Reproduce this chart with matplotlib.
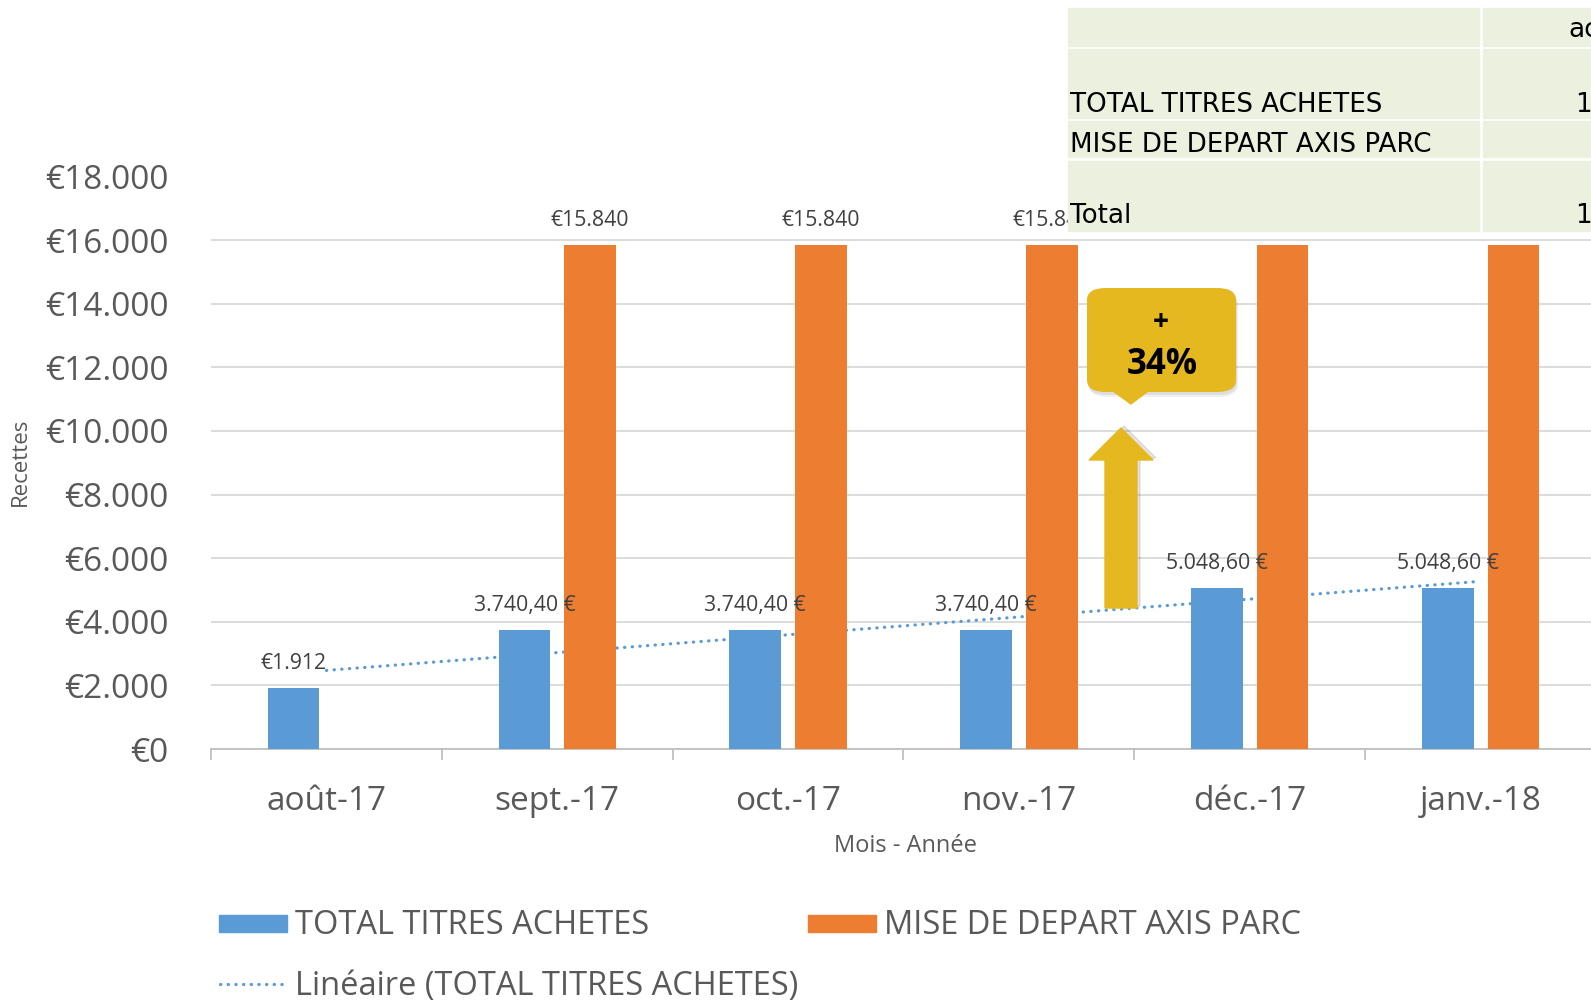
import numpy as np
import matplotlib.pyplot as plt
from matplotlib.patches import Rectangle, FancyBboxPatch, Polygon
from matplotlib.lines import Line2D

# donnees
mois = ["août-17", "sept.-17", "oct.-17", "nov.-17", "déc.-17", "janv.-18"]
titres = [1912, 3740.40, 3740.40, 3740.40, 5048.60, 5048.60]
mise = [0, 15840, 15840, 15840, 15840, 15840]
titres_labels = ["€1.912", "3.740,40 €", "3.740,40 €", "3.740,40 €", "5.048,60 €", "5.048,60 €"]
mise_labels = ["", "€15.840", "€15.840", "€15.840", "€15.840", "€15.840"]
yticks = [0, 2000, 4000, 6000, 8000, 10000, 12000, 14000, 16000, 18000]
ytick_labels = ["€0", "€2.000", "€4.000", "€6.000", "€8.000", "€10.000",
                "€12.000", "€14.000", "€16.000", "€18.000"]
table_rows = ["", "TOTAL TITRES ACHETES", "MISE DE DEPART AXIS PARC", "Total"]
table_col2 = ["ac", "1", "", "1"]

BLUE = "#5B9BD5"
ORANGE = "#ED7D31"
GOLD = "#E5B81F"
GREY = "#595959"
FONT = "Open Sans"

W, H = 1591, 1000


def fx(px):
    return px / W


def fy(py):
    return 1 - py / H


fig = plt.figure(figsize=(W / 100, H / 100), dpi=100)
fig.patch.set_facecolor("white")

ax = fig.add_axes([fx(211), fy(749), (1596 - 211) / W, (749 - 176.5) / H])
x = np.arange(len(mois))
off, bw = 0.142, 0.224

ax.bar(x - off, titres, bw, color=BLUE, zorder=3)
ax.bar(x[1:] + off, mise[1:], bw, color=ORANGE, zorder=3)

coef = np.polyfit(x, titres, 1)
ax.plot(x, np.polyval(coef, x), color=BLUE, lw=2.3, linestyle=(0, (0.1, 2.3)),
        dash_capstyle="round", zorder=2)

for xi, v, lbl in zip(x, titres, titres_labels):
    ax.annotate(lbl, (xi - off, v), xytext=(0, 18), textcoords="offset points",
                ha="center", va="center", fontsize=15.3, color="#404040", family=FONT)
for xi, v, lbl in zip(x, mise, mise_labels):
    if lbl:
        ax.annotate(lbl, (xi + off, v), xytext=(0, 18), textcoords="offset points",
                    ha="center", va="center", fontsize=15.3, color="#404040", family=FONT)

ax.set_xlim(-0.5, 5.5)
ax.set_ylim(0, 18000)
ax.set_yticks(yticks)
ax.set_yticklabels(ytick_labels, fontsize=24, color=GREY, family=FONT)
ax.set_xticks(x)
ax.set_xticklabels(mois, fontsize=24, color=GREY, family=FONT)
ax.set_xticks(np.arange(-0.5, 6, 1), minor=True)
ax.tick_params(axis="y", length=0, pad=30.5)
ax.tick_params(axis="x", which="major", length=0, pad=26)
ax.tick_params(axis="x", which="minor", length=8, color="#BFBFBF", width=1.3)
ax.yaxis.grid(True, color="#D9D9D9", lw=1.3, zorder=0)
ax.set_axisbelow(True)
for s in ["top", "right", "left"]:
    ax.spines[s].set_visible(False)
ax.spines["bottom"].set_color("#BFBFBF")
ax.spines["bottom"].set_linewidth(1.3)
ax.set_facecolor("none")

fig.text(fx(905), fy(846), "Mois - Année", ha="center", va="center",
         fontsize=17, color=GREY, family=FONT)
fig.text(fx(20), fy(462), "Recettes", ha="center", va="center", rotation=90,
         fontsize=16, color=GREY, family=FONT)

# legende
fig.patches.append(Rectangle((fx(219), fy(932)), (287 - 219) / W, 17 / H,
                             transform=fig.transFigure, color=BLUE))
fig.text(fx(295), fy(925), "TOTAL TITRES ACHETES", ha="left", va="center",
         fontsize=23.5, color=GREY, family=FONT)
fig.patches.append(Rectangle((fx(808), fy(932)), (876 - 808) / W, 17 / H,
                             transform=fig.transFigure, color=ORANGE))
fig.text(fx(884), fy(925), "MISE DE DEPART AXIS PARC", ha="left", va="center",
         fontsize=23.5, color=GREY, family=FONT)
fig.lines.append(Line2D([fx(220), fx(284)], [fy(984), fy(984)], transform=fig.transFigure,
                        color=BLUE, lw=2.3, linestyle=(0, (0.1, 2.3)), dash_capstyle="round"))
fig.text(fx(295), fy(986), "Linéaire (TOTAL TITRES ACHETES)", ha="left", va="center",
         fontsize=23.5, color=GREY, family=FONT)

# tableau en haut a droite
fig.patches.append(Rectangle((fx(1068), fy(231)), (1600 - 1068) / W, (231 - 8) / H,
                             transform=fig.transFigure, color="white", zorder=4.5))
row_spans = [(8, 46), (49, 118), (121, 157), (161, 231)]
row_base = [37, 112, 152, 223]
col_spans = [(1068, 1479), (1483, 1600)]
for (y0, y1), yb, lbl, val in zip(row_spans, row_base, table_rows, table_col2):
    for (x0, x1) in col_spans:
        fig.patches.append(Rectangle((fx(x0), fy(y1)), (x1 - x0) / W, (y1 - y0) / H,
                                     transform=fig.transFigure, color="#EBF1DE", zorder=5))
    fig.text(fx(1070), fy(yb), lbl, ha="left", va="baseline", fontsize=18.8,
             color="black", family="DejaVu Sans", zorder=6)
    fig.text(fx(1568 if val == "ac" else 1575), fy(yb), val, ha="left", va="baseline",
             fontsize=18.8, color="black", family="DejaVu Sans", zorder=6)

# fleche et bulle +34%
arrow = [(1105, 608), (1105, 460), (1089, 460), (1121, 428), (1153, 460), (1137, 460), (1137, 608)]
fig.patches.append(Polygon([(fx(a + 3), fy(b - 2)) for a, b in arrow], color="#000000",
                           alpha=0.10, transform=fig.transFigure, zorder=5))
fig.patches.append(Polygon([(fx(a), fy(b)) for a, b in arrow], color=GOLD,
                           transform=fig.transFigure, zorder=6))
bubble = dict(boxstyle="round,pad=0,rounding_size=0.012", transform=fig.transFigure)
for dx, dy, al in [(1, 3, 0.08), (2, 5, 0.06)]:
    fig.patches.append(FancyBboxPatch((fx(1087 + dx), fy(392 + dy)), (1236 - 1087) / W,
                                      (392 - 288) / H, color="#000000", alpha=al,
                                      lw=0, zorder=5, **bubble))
fig.patches.append(Polygon([(fx(1113), fy(391)), (fx(1131), fy(404)), (fx(1148), fy(391))],
                           color=GOLD, transform=fig.transFigure, zorder=6))
fig.patches.append(FancyBboxPatch((fx(1087), fy(392)), (1236 - 1087) / W, (392 - 288) / H,
                                  color=GOLD, lw=0, zorder=6, **bubble))
fig.text(fx(1161), fy(322), "+", ha="center", va="center", fontsize=20, fontweight="bold",
         color="black", family=FONT, zorder=7)
fig.text(fx(1162), fy(365), "34%", ha="center", va="center", fontsize=25, fontweight="bold",
         color="black", family=FONT, zorder=7)

fig.savefig("out.png", dpi=100)
